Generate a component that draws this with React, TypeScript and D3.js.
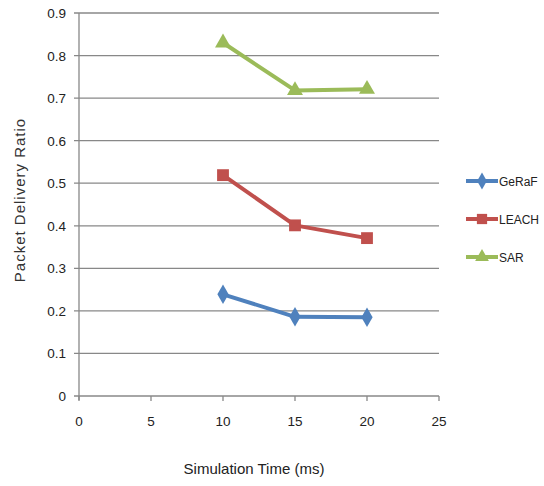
import React from "react";
import * as d3 from "d3";

const times = [10, 15, 20];
const seriesNames = ["GeRaF", "LEACH", "SAR"];
const gerafValues = [0.239, 0.186, 0.185];
const leachValues = [0.519, 0.401, 0.371];
const sarValues = [0.83, 0.718, 0.721];
const xTicks = [0, 5, 10, 15, 20, 25];
const yTicks = [0, 0.1, 0.2, 0.3, 0.4, 0.5, 0.6, 0.7, 0.8, 0.9];
const colors = ["#4F81BD", "#C0504D", "#9BBB59"];
const symbols = [d3.symbolDiamond, d3.symbolSquare, d3.symbolTriangle];

export default function App() {
  const W = 544, H = 486;
  const x = d3.scaleLinear().domain([0, 25]).range([79, 439]);
  const y = d3.scaleLinear().domain([0, 0.9]).range([396, 13]);
  const allValues = [gerafValues, leachValues, sarValues];
  const line = d3.line<number>().x((_, i) => x(times[i])).y((v) => y(v));
  const font = "'Liberation Sans', Arial, sans-serif";
  const legendY = [181, 219, 257];
  const symSizes = [110, 140, 110];
  return (
    <svg width={W} height={H} style={{ position: "absolute", left: 0, top: 0, background: "#fff" }}>
      {yTicks.map((t) => (
        <g key={t}>
          <line x1={74} x2={439} y1={y(t)} y2={y(t)} stroke="#888" strokeWidth={1.3} />
          <text x={66} y={y(t) + 5} textAnchor="end" fontSize={13.5} fill="#222" fontFamily={font}>
            {t === 0 ? "0" : t.toFixed(1)}
          </text>
        </g>
      ))}
      <line x1={x(0)} x2={x(0)} y1={y(0.9)} y2={y(0) + 4} stroke="#888" strokeWidth={1.3} />
      {xTicks.map((t) => (
        <g key={t}>
          <line x1={x(t)} x2={x(t)} y1={y(0)} y2={y(0) + 5} stroke="#888" strokeWidth={1.3} />
          <text x={x(t)} y={426} textAnchor="middle" fontSize={13.5} fill="#222" fontFamily={font}>
            {t}
          </text>
        </g>
      ))}
      {allValues.map((vals, si) => (
        <g key={si}>
          <path d={line(vals) || ""} fill="none" stroke={colors[si]} strokeWidth={4} strokeLinejoin="round" />
          {vals.map((v, i) => (
            <path
              key={i}
              d={d3.symbol().type(symbols[si]).size(symSizes[si])() || ""}
              transform={`translate(${x(times[i])},${y(v)})`}
              fill={colors[si]}
            />
          ))}
        </g>
      ))}
      {seriesNames.map((n, si) => (
        <g key={n}>
          <line x1={466} x2={498} y1={legendY[si]} y2={legendY[si]} stroke={colors[si]} strokeWidth={4} />
          <path
            d={d3.symbol().type(symbols[si]).size(symSizes[si] * 0.75)() || ""}
            transform={`translate(482,${legendY[si]})`}
            fill={colors[si]}
          />
          <text x={499} y={legendY[si] + 4.5} fontSize={12} fill="#222" fontFamily={font}>
            {n}
          </text>
        </g>
      ))}
      <text
        transform={`translate(25,200) rotate(-90)`}
        textAnchor="middle"
        fontSize={15}
        letterSpacing={1}
        fill="#333"
        fontFamily={font}
      >
        Packet Delivery Ratio
      </text>
      <text x={254} y={474} textAnchor="middle" fontSize={15} fill="#222" fontFamily={font}>
        Simulation Time (ms)
      </text>
    </svg>
  );
}
